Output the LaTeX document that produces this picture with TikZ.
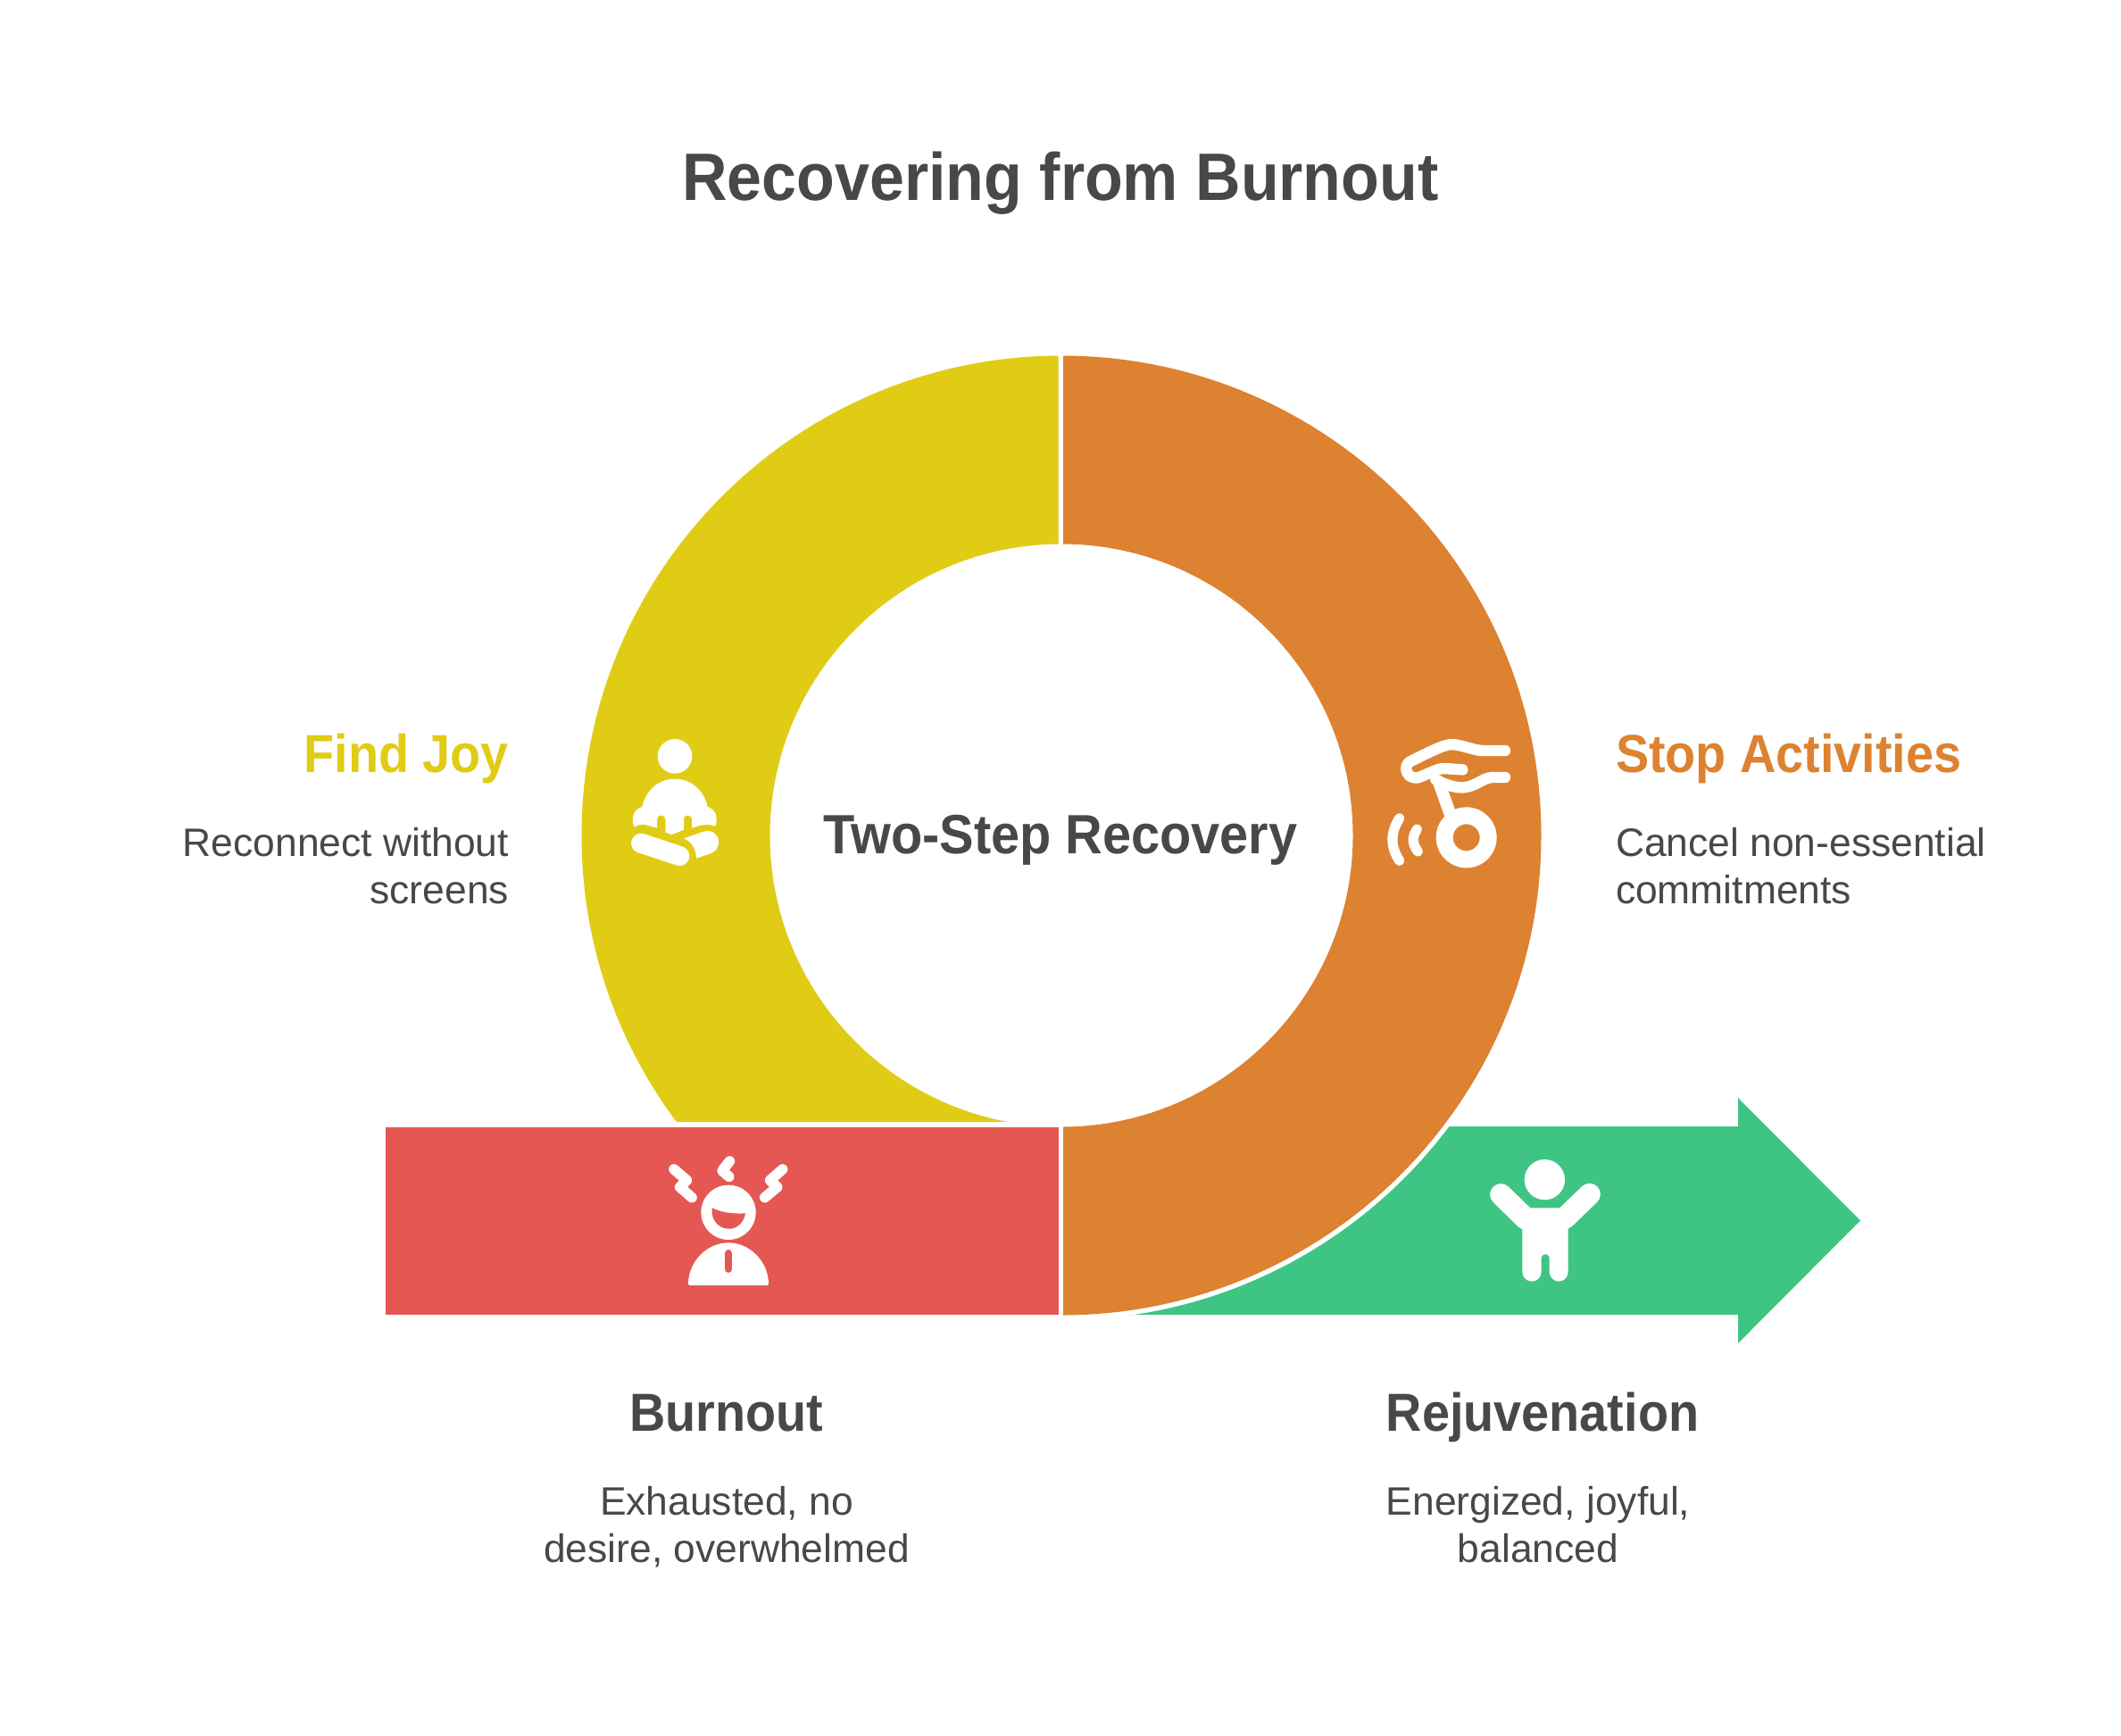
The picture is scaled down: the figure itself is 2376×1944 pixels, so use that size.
\documentclass[tikz,border=0pt]{standalone}
\usepackage{fontspec}
\setmainfont{Liberation Sans}
\newfontfamily\boldfam[FakeStretch=0.93]{Liberation Sans Bold}
\newfontfamily\bodyfam[FakeStretch=1.0]{Liberation Sans}
\definecolor{cyel}{HTML}{E0CC14}
\definecolor{cora}{HTML}{DD8230}
\definecolor{cred}{HTML}{E55753}
\definecolor{cgre}{HTML}{3EC584}
\definecolor{ctxt}{HTML}{484848}
\tikzset{
  lbl/.style={inner sep=0pt,outer sep=0pt,text=ctxt},
  titletext/.style={lbl,anchor=base,font=\boldfam\fontsize{37.6}{38}\selectfont},
  headtext/.style={lbl,anchor=base,font=\boldfam\fontsize{30}{30}\selectfont},
  bodytext/.style={lbl,font=\bodyfam\fontsize{22.2}{26.5}\selectfont},
  iconfill/.style={fill=white,draw=none},
  iconline/.style={draw=white,line cap=round,line join=round,fill=none},
  zoomed/.style={shift={#1},scale=1/3}
}
\begin{document}
\begin{tikzpicture}[x=0.5pt,y=-0.5pt]
\path[use as bounding box,fill=white] (0,0) rectangle (2376,1944);
\coordinate (ringc) at (1189,936);

% rejuvenation arrow
\fill[cgre] (1200,1262) -- (1947,1262) -- (1947,1230) -- (2084,1367.5) -- (1947,1505) -- (1947,1473) -- (1200,1473) -- cycle;
\fill[white] (ringc) circle[radius=543];

% ring halves
\begin{scope}
\clip (1191,300) rectangle (1800,1473);
\fill[cora,even odd rule] (ringc) circle[radius=537.5] (ringc) circle[radius=326.5];
\end{scope}
\begin{scope}
\clip (600,300) rectangle (1185.5,1256.5);
\fill[cyel,even odd rule] (ringc) circle[radius=537.5] (ringc) circle[radius=326.5];
\end{scope}

% burnout bar
\fill[cred] (432,1262.5) rectangle (1185.5,1473);

% yellow icon
\begin{scope}[zoomed={(660,780)}]
\fill[iconfill] (288,202) circle[radius=58];
\fill[iconfill] (178,372) .. controls (190,315) and (235,278) .. (288,278)
  .. controls (341,278) and (386,315) .. (398,372)
  .. controls (420,378) and (436,400) .. (424,437)
  .. controls (405,428) and (385,430) .. (345,443)
  -- (345,415) .. controls (345,395) and (318,395) .. (318,415)
  -- (318,449) -- (278,465) -- (256,458) -- (256,415)
  .. controls (256,395) and (228,395) .. (228,415) -- (228,443)
  -- (190,432) .. controls (175,430) and (165,432) .. (152,440)
  .. controls (138,410) and (150,380) .. (178,372) -- cycle;
\draw[iconline,line width=11pt] (174,494) -- (304,537);
\fill[iconfill] (318,478) -- (385,455) .. controls (415,445) and (436,470) .. (435,490)
  .. controls (435,510) and (425,523) .. (405,530) -- (360,545)
  .. controls (358,510) and (345,490) .. (318,478) -- cycle;
\end{scope}

% orange icon
\begin{scope}[zoomed={(1520,790)}]
\draw[iconline,line width=6.2pt] (498,153) -- (420,153)
  .. controls (385,150) and (350,132) .. (315,132)
  .. controls (285,135) and (230,165) .. (178,190)
  .. controls (155,205) and (165,250) .. (205,244)
  .. controls (240,232) and (270,212) .. (295,213)
  -- (355,217);
\draw[iconline,line width=6.2pt] (265,250) .. controls (300,270) and (330,277) .. (355,277)
  .. controls (400,275) and (420,245) .. (455,243) -- (498,243);
\draw[iconline,line width=6.8pt,line cap=butt] (272,250) -- (315,370);
\fill[iconfill,even odd rule] (368,445) circle[radius=102] (368,445) circle[radius=45];
\draw[iconline,line width=5.6pt] (143,380) .. controls (112,430) and (112,475) .. (143,523);
\draw[iconline,line width=5.6pt] (202,417) .. controls (185,445) and (185,465) .. (205,492);
\end{scope}

% red icon
\begin{scope}[zoomed={(720,1270)}]
\fill[iconfill] (288,265) circle[radius=92];
\fill[cred] (233,250) .. controls (270,268) and (310,270) .. (345,268)
  .. controls (340,300) and (315,322) .. (288,320)
  .. controls (255,320) and (228,290) .. (233,250) -- cycle;
\fill[iconfill] (153,503) .. controls (155,430) and (215,367) .. (288,367)
  .. controls (360,367) and (421,430) .. (423,503)
  .. controls (423,508) and (421,510) .. (417,510) -- (159,510)
  .. controls (155,510) and (153,508) .. (153,503) -- cycle;
\draw[cred,line width=4.3pt,line cap=round] (288,403) -- (288,455);
\draw[iconline,line width=5.8pt] (105,120) -- (148,157) -- (125,180) -- (165,215);
\draw[iconline,line width=5.8pt] (470,120) -- (428,157) -- (452,180) -- (410,215);
\draw[iconline,line width=5.8pt] (292,93) -- (267,125) -- (290,145);
\end{scope}

% green icon
\begin{scope}[zoomed={(1640,1270)}]
\fill[iconfill] (271,155) circle[radius=68];
\draw[iconline,line width=12.2pt] (124,205) -- (208,287);
\draw[iconline,line width=12.2pt] (422,204) -- (338,285);
\fill[iconfill] (222,250) -- (320,250) -- (350,300) -- (350,465)
  .. controls (350,482) and (336,497) .. (318.5,497)
  .. controls (301,497) and (287,482) .. (287,465)
  -- (287,420) .. controls (287,400) and (260,400) .. (260,420) -- (260,465)
  .. controls (260,482) and (246,497) .. (228,497)
  .. controls (210,497) and (196,482) .. (196,465)
  -- (196,300) -- cycle;
\end{scope}

% texts
\node[titletext] (title) at (1188,224) {Recovering from Burnout};
\node[headtext,font=\boldfam\fontsize{31}{31}\selectfont] (center) at (1188,956) {Two-Step Recovery};
\node[headtext,text=cyel,anchor=base east] (joyh) at (570,865) {Find Joy};
\node[bodytext,anchor=north east,align=right] (joyb) at (570,927) {Reconnect without\\screens};
\node[headtext,text=cora,anchor=base west] (stoph) at (1810,865) {Stop Activities};
\node[bodytext,anchor=north west,align=left] (stopb) at (1810,927) {Cancel non-essential\\commitments};
\node[headtext] (burnh) at (814,1603) {Burnout};
\node[bodytext,anchor=north,align=center] (burnb) at (814,1665) {Exhausted, no\\desire, overwhelmed};
\node[headtext] (rejh) at (1728,1603) {Rejuvenation};
\node[bodytext,anchor=north,align=center] (rejb) at (1723,1665) {Energized, joyful,\\balanced};
\end{tikzpicture}
\end{document}
